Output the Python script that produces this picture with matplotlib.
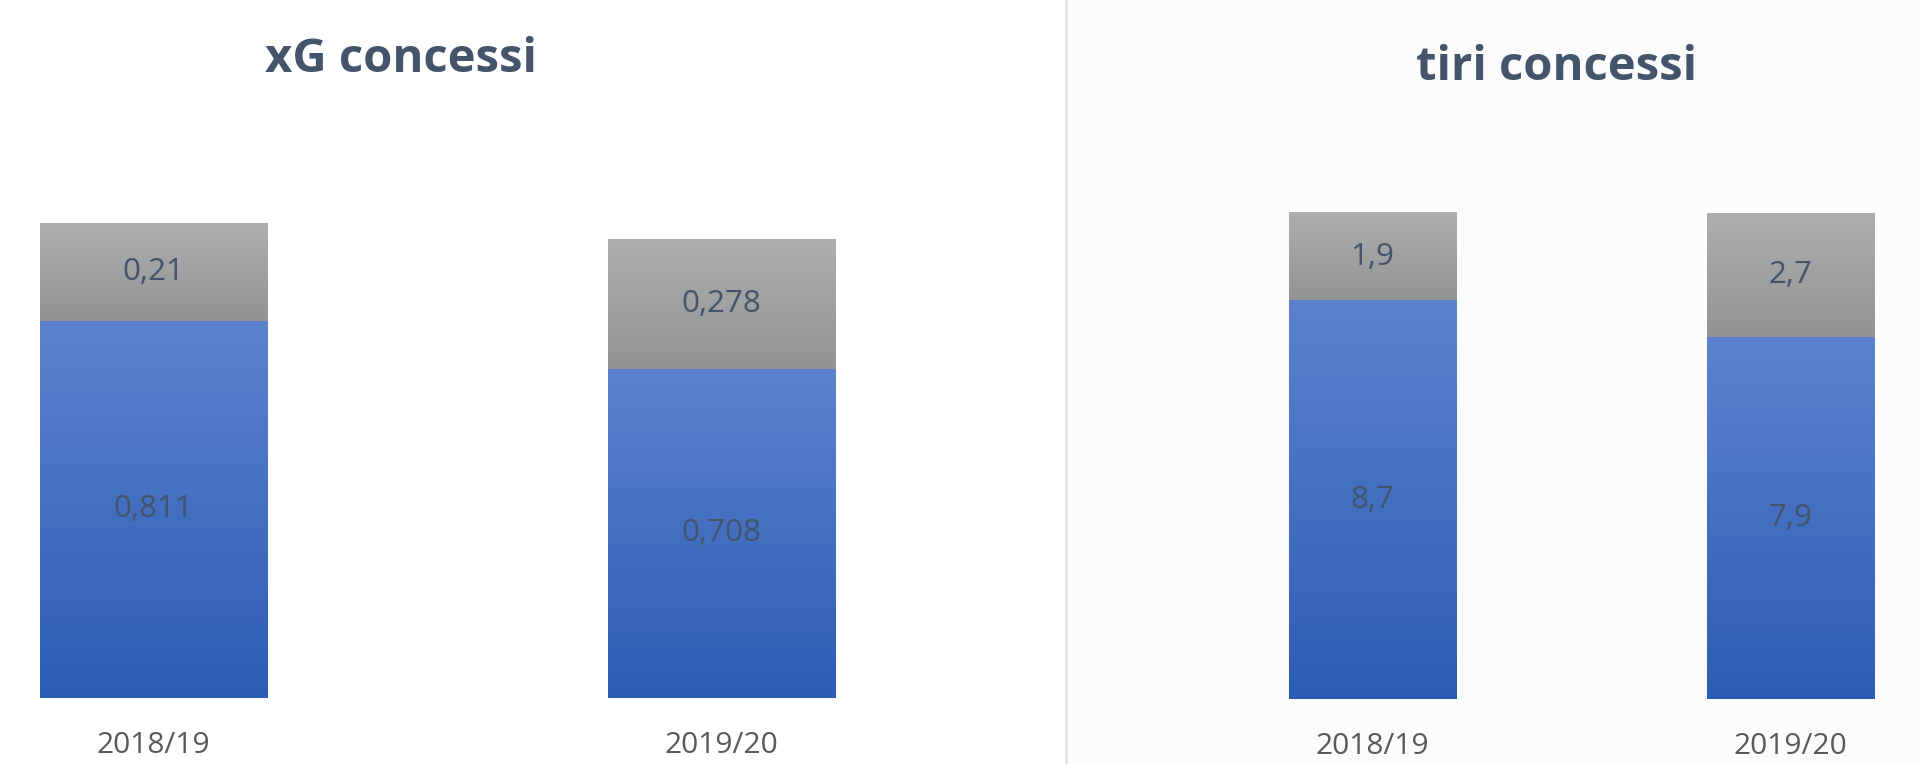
import matplotlib.pyplot as plt
import numpy as np
from matplotlib.colors import LinearSegmentedColormap
from matplotlib.patches import Rectangle
from matplotlib.lines import Line2D

# dati
stagioni = ['2018/19', '2019/20']
xg_blu = [0.811, 0.708]
xg_grigio = [0.21, 0.278]
tiri_blu = [8.7, 7.9]
tiri_grigio = [1.9, 2.7]

plt.rcParams['font.family'] = ['Open Sans', 'DejaVu Sans']

blu = LinearSegmentedColormap.from_list('blu', ['#2c5db6', '#5c82cd'])
grigio = LinearSegmentedColormap.from_list('grigio', ['#939393', '#aeaeae'])
grad = np.linspace(0, 1, 256).reshape(-1, 1)


def sfuma(ax, barre, cmap, valori):  # sfumatura verticale + etichetta al centro
    for b, v in zip(barre, valori):
        x0, y0 = b.get_xy()
        w, h = b.get_width(), b.get_height()
        b.set_facecolor('none')
        b.set_edgecolor('none')
        ax.imshow(grad, extent=[x0, x0 + w, y0, y0 + h], origin='lower',
                  aspect='auto', cmap=cmap, zorder=2, interpolation='bilinear')
        ax.text(x0 + w / 2, y0 + h / 2, str(v).replace('.', ','), ha='center', va='center',
                fontsize=22.5, color='#44546a', zorder=3)


def pannello(ax, basso, alto, xlim, ylim):
    x = np.arange(len(stagioni))
    b1 = ax.bar(x, basso, width=0.4)
    b2 = ax.bar(x, alto, width=0.4, bottom=basso)
    sfuma(ax, b1, blu, basso)
    sfuma(ax, b2, grigio, alto)
    ax.set_xlim(xlim)
    ax.set_ylim(ylim)
    ax.set_xticks(x)
    ax.set_xticklabels(stagioni, fontsize=21.5, color='#595959')
    ax.tick_params(axis='x', length=0, pad=24)
    ax.set_yticks([])
    for s in ax.spines.values():
        s.set_visible(False)
    ax.patch.set_alpha(0)


fig = plt.figure(figsize=(19.2, 7.64), dpi=100)
fig.patch.set_facecolor('white')

# sfondo del pannello destro e separatore
fig.patches.append(Rectangle((1067 / 1920, 0), 1 - 1067 / 1920, 1, transform=fig.transFigure,
                             facecolor='#fcfcfc', edgecolor='none', zorder=-2))
fig.lines.append(Line2D([1065.5 / 1920, 1065.5 / 1920], [0, 1], transform=fig.transFigure,
                        color='#e3e6ed', linewidth=2.2, zorder=-1))

ax1 = fig.add_axes([0, 66 / 764, 1005 / 1920, 548 / 764])
pannello(ax1, xg_blu, xg_grigio, (-0.27, 1.5), (0, 1.178))

ax2 = fig.add_axes([1070 / 1920, 65 / 764, 850 / 1920, 548 / 764])
pannello(ax2, tiri_blu, tiri_grigio, (-0.724, 1.31), (0, 11.96))

fig.text(401 / 1920, 1 - 59 / 764, 'xG concessi', ha='center', va='center',
         fontsize=34, fontweight='bold', color='#44546a')
fig.text(1556 / 1920, 1 - 68 / 764, 'tiri concessi', ha='center', va='center',
         fontsize=34, fontweight='bold', color='#44546a')

fig.savefig('out.png', dpi=100, facecolor=fig.get_facecolor())
